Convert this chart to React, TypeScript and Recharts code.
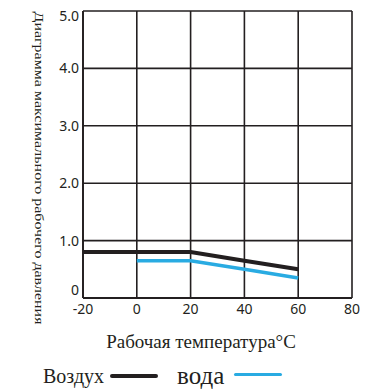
import { LineChart, Line, XAxis, YAxis, CartesianGrid, Legend } from 'recharts';

const temps = [-20, 0, 20, 40, 60];
const airPressure = [0.8, 0.8, 0.8, 0.65, 0.5];
const waterPressure = [null, 0.65, 0.65, 0.5, 0.35];
const xTicks = [-20, 0, 20, 40, 60, 80];
const yTicks = [0, 1, 2, 3, 4, 5];

const INK = '#231f20';
const BLUE = '#29abe2';
const SERIF = '"Liberation Serif", "Times New Roman", serif';
const SANS = '"Noto Sans", "Open Sans", sans-serif';

const data = temps.map((t, i) => ({ t, air: airPressure[i], water: waterPressure[i] }));

function LegendContent({ payload }: any) {
  const items = payload ?? [];
  return (
    <div style={{ display: 'flex', alignItems: 'center', paddingLeft: 43, fontFamily: SERIF, color: INK }}>
      {items.map((it: any, i: number) => (
        <div key={it.value} style={{ display: 'flex', alignItems: 'center', marginRight: 19 }}>
          <span style={{ fontSize: i === 0 ? 20 : 25, lineHeight: '26px' }}>{it.value}</span>
          <span
            style={{
              display: 'inline-block',
              width: 48,
              height: i === 0 ? 4 : 3,
              background: it.color,
              marginLeft: i === 0 ? 6 : 10,
              marginTop: i === 0 ? 0 : -4,
              borderRadius: 2,
            }}
          />
        </div>
      ))}
    </div>
  );
}

function YTick({ x, y, payload }: any) {
  const v = payload.value as number;
  const cy = Math.min(Math.max(y, 16), 290);
  return (
    <text x={x} y={cy} dy="0.36em" textAnchor="end" fill={INK} fontSize={14} fontFamily={SANS}>
      {v === 0 ? '0' : v.toFixed(1)}
    </text>
  );
}

export default function App() {
  return (
    <div style={{ position: 'absolute', left: 0, top: 0, width: 384, height: 389, background: '#fff' }}>
      <LineChart width={384} height={389} data={data} margin={{ top: 11, right: 32, left: 0, bottom: 0 }}>
        <CartesianGrid stroke={INK} strokeWidth={1.6} />
        <XAxis
          dataKey="t"
          type="number"
          domain={[-20, 80]}
          ticks={xTicks}
          height={91}
          tickLine={false}
          tickSize={2}
          tickMargin={4}
          axisLine={{ stroke: INK, strokeWidth: 1.8 }}
          tick={{ fill: INK, fontSize: 14, fontFamily: SANS }}
          label={{
            content: () => (
              <text x={201} y={348} textAnchor="middle" fontFamily={SERIF} fontSize={19} fill={INK}>
                Рабочая температура°С
              </text>
            ),
          }}
        />
        <YAxis
          type="number"
          domain={[0, 5]}
          ticks={yTicks}
          width={83}
          tickLine={false}
          tickSize={2}
          tickMargin={2}
          axisLine={{ stroke: INK, strokeWidth: 1.8 }}
          tick={<YTick />}
          label={{
            content: () => (
              <text
                x={39}
                y={168}
                transform="rotate(90 39 168)"
                textAnchor="middle"
                dominantBaseline="central"
                fontFamily={SERIF}
                fontSize={12}
                fill={INK}
                textLength={313}
                lengthAdjust="spacingAndGlyphs"
              >
                Диаграмма максимального рабочего давления
              </text>
            ),
          }}
        />
        <Legend
          verticalAlign="middle"
          content={<LegendContent />}
          wrapperStyle={{ top: 363, left: 0, width: 384 }}
        />
        <Line
          type="linear"
          dataKey="air"
          name="Воздух"
          stroke={INK}
          strokeWidth={4}
          dot={false}
          isAnimationActive={false}
        />
        <Line
          type="linear"
          dataKey="water"
          name="вода"
          stroke={BLUE}
          strokeWidth={3.5}
          dot={false}
          isAnimationActive={false}
        />
      </LineChart>
    </div>
  );
}
